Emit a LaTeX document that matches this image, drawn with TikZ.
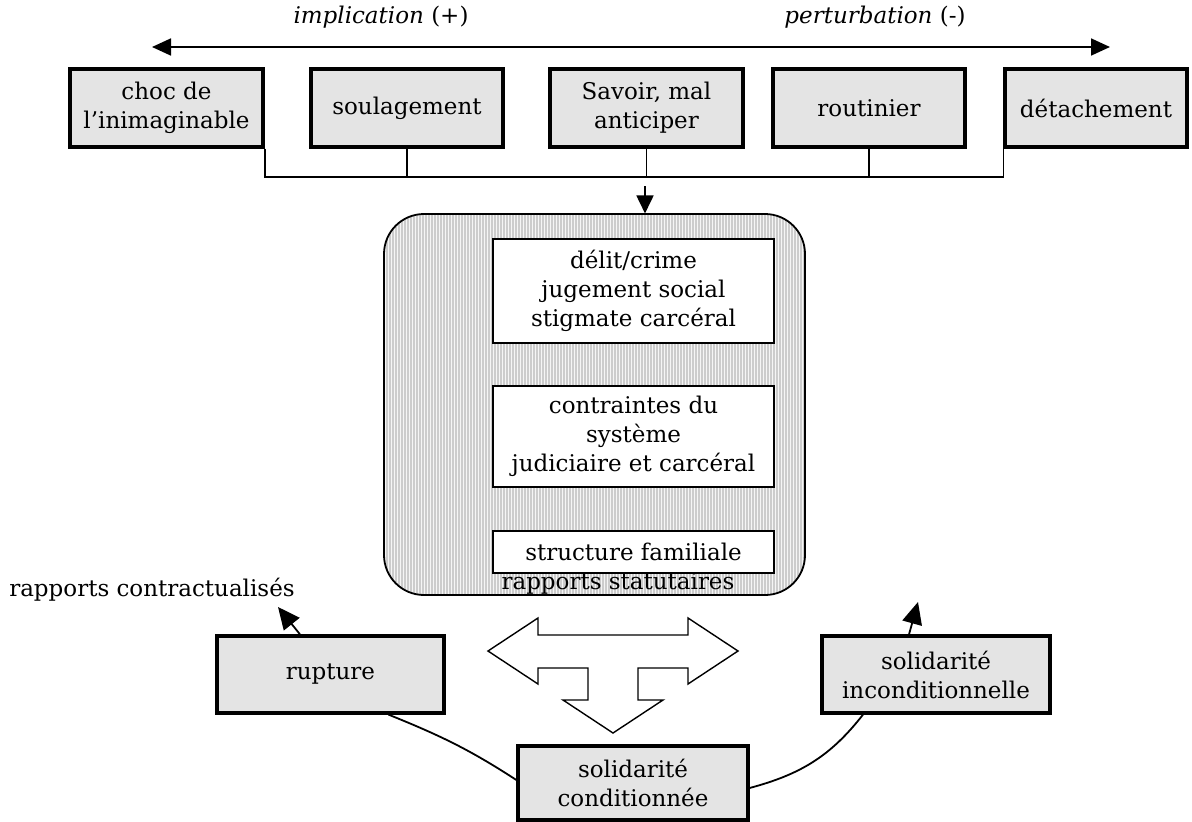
\documentclass[tikz,border=0pt]{standalone}
\usepackage{fontspec}
\setmainfont{DejaVu Serif}
\usepackage{tikz}
\usepackage{xcolor}
\usetikzlibrary{arrows.meta}
\usetikzlibrary{patterns.meta}

\definecolor{boxgray}{RGB}{228,228,228}

\begin{document}
\begin{tikzpicture}[x=1pt, y=-1pt,
    font=\fontsize{23}{29}\selectfont,
    stage/.style={draw, line width=3.2pt, fill=boxgray, minimum height=78pt, align=center, inner sep=1pt},
    inner/.style={draw, line width=1.8pt, fill=white, minimum width=281pt, align=center, inner sep=1pt},
    link/.style={line width=1.8pt},
    bigtip/.style={-{Triangle[length=22pt, width=20pt]}, line width=1.8pt}]
    \useasboundingbox (0,0) rectangle (1192,822);

    % axis on top
    \coordinate (west) at (152,47);
    \coordinate (east) at (1110,47);
    \draw[{Triangle[length=19pt, width=17pt]}-{Triangle[length=19pt, width=17pt]}, link] (west) -- (east);
    \node (impl) at (381,17) {\textit{implication} (+)};
    \node (pert) at (875,17) {\textit{perturbation} (-)};

    % attitudes
    \node[stage, minimum width=193pt] (choc) at (166.5,108) {choc de\\l’inimaginable};
    \node[stage, minimum width=192pt] (soul) at (407,108) {soulagement};
    \node[stage, minimum width=193pt] (savoir) at (646.5,108) {Savoir, mal\\anticiper};
    \node[stage, minimum width=192pt] (rout) at (869,108) {routinier};
    \node[stage, minimum width=182pt] (detach) at (1096,108) {détachement};

    \coordinate (bus) at (0,177);
    \draw[link] (choc.south east) -- (choc.south east |- bus) -- (detach.south west |- bus) -- (detach.south west);
    \foreach \n in {soul, savoir, rout}
        \draw[link] (\n.south) -- (\n.south |- bus);

    % central block
    \node[draw, line width=1.8pt, rounded corners=40pt, minimum width=421pt, minimum height=381pt,
        preaction={fill=gray!8}, pattern={Lines[angle=90, distance=3pt, line width=1.1pt]},
        pattern color=gray!40] (core) at (594.5,404.5) {};
    \coordinate (drop) at (645,186);
    \draw[-{Triangle[length=18pt, width=17pt]}, link] (drop) -- (drop |- core.north);

    \node[inner, minimum height=104pt] (delit) at (633.5,291) {délit/crime\\jugement social\\stigmate carcéral};
    \node[inner, minimum height=101pt] (contr) at (633.5,436.5) {contraintes du\\système\\judiciaire et carcéral};
    \node[inner, minimum height=42pt] (struct) at (633.5,552) {structure familiale};
    \node (statut) at (618,583) {rapports statutaires};

    % three-way arrow
    \draw[line width=1.4pt, fill=white, line join=miter]
        (488,651) -- (538,618) -- (538,635) -- (688,635) -- (688,618) -- (738,651)
        -- (688,684) -- (688,668) -- (638,668) -- (638,700) -- (663,700) -- (613,733)
        -- (563,700) -- (588,700) -- (588,668) -- (538,668) -- (538,684) -- cycle;

    % outcomes
    \node[stage, minimum width=227pt, minimum height=77pt] (rupt) at (330.5,674.5) {rupture};
    \node[stage, minimum width=228pt, minimum height=77pt] (incond) at (936,674.5) {solidarité\\inconditionnelle};
    \node[stage, minimum width=230pt, minimum height=74pt] (cond) at (633,783) {solidarité\\conditionnée};
    \node (contract) at (152,590) {rapports contractualisés};

    \coordinate (ctip) at (278,607);
    \coordinate (itip) at (918,602);
    \draw[bigtip] ([xshift=-30.5pt]rupt.north) -- (ctip);
    \draw[bigtip] ([xshift=-27pt]incond.north) -- (itip);

    \draw[link] ([xshift=58pt]rupt.south) to[out=-22, in=147] ([yshift=3pt]cond.west);
    \draw[link] ([yshift=-5pt]cond.east) to[out=15, in=-128] ([xshift=-73pt]incond.south);
\end{tikzpicture}
\end{document}
